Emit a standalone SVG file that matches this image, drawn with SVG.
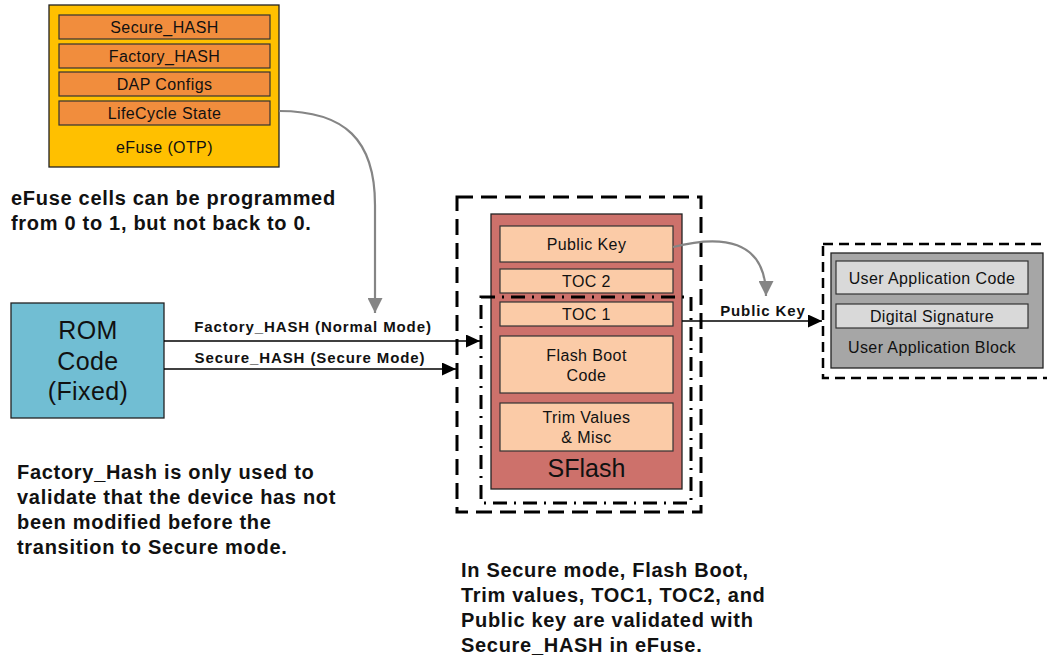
<svg xmlns="http://www.w3.org/2000/svg" width="1047" height="656" viewBox="0 0 1047 656">
<style>
text{font-family:"Liberation Sans",Arial,sans-serif;fill:#111;}
.n{font-size:16px;letter-spacing:0.4px;text-anchor:middle;}
.big{font-size:25px;letter-spacing:0.4px;text-anchor:middle;}
.note{font-size:20px;font-weight:bold;letter-spacing:0.7px;}
.lbl{font-size:15px;font-weight:bold;letter-spacing:0.9px;text-anchor:middle;}
.box{stroke:#222;stroke-width:1.3;}
.row{fill:#F18D3D;stroke:#333;stroke-width:1.2;}
.peach{fill:#FBCBA7;stroke:#333;stroke-width:1.2;}
.lg{fill:#D9D9D9;stroke:#333;stroke-width:1.2;}
.conn{fill:none;stroke:#000;stroke-width:1.6;}
.gconn{fill:none;stroke:#858585;stroke-width:2.2;}
</style>
<defs>
<marker id="ah" markerUnits="userSpaceOnUse" markerWidth="15" markerHeight="13" refX="14" refY="6.5" orient="auto">
<path d="M0,0 L14,6.5 L0,13 z" fill="#000"/>
</marker>
<marker id="gah" markerUnits="userSpaceOnUse" markerWidth="16" markerHeight="15" refX="15" refY="7.5" orient="auto">
<path d="M0,0 L15,7.5 L0,15 z" fill="#858585"/>
</marker>
</defs>
<rect width="1047" height="656" fill="#fff"/>

<g id="efuse">
<rect class="box" x="49" y="5" width="230" height="162" fill="#FFC000"/>
<rect class="row" x="59" y="15" width="211" height="24"/>
<rect class="row" x="59" y="44" width="211" height="24"/>
<rect class="row" x="59" y="72" width="211" height="24"/>
<rect class="row" x="59" y="101" width="211" height="24"/>
<text class="n" x="164.5" y="32.5">Secure_HASH</text>
<text class="n" x="164.5" y="61.5">Factory_HASH</text>
<text class="n" x="164.5" y="89.5">DAP Configs</text>
<text class="n" x="164.5" y="118.5">LifeCycle State</text>
<text class="n" x="164.5" y="153">eFuse (OTP)</text>
</g>

<g id="rom">
<rect class="box" x="11" y="303" width="153" height="115" fill="#71BED3"/>
<text class="big" x="88" y="339">ROM</text>
<text class="big" x="88" y="370">Code</text>
<text class="big" x="88" y="400">(Fixed)</text>
</g>

<g id="secure-region">
<rect x="457" y="197" width="244" height="315" fill="none" stroke="#000" stroke-width="3" stroke-dasharray="16 8"/>
</g>

<g id="sflash">
<rect class="box" x="491" y="214" width="191" height="275" fill="#CD716B"/>
<rect class="peach" x="500" y="226" width="173" height="36"/>
<rect class="peach" x="500" y="269" width="173" height="24"/>
<rect class="peach" x="500" y="302" width="173" height="24"/>
<rect class="peach" x="500" y="336" width="173" height="57"/>
<rect class="peach" x="500" y="403" width="173" height="48"/>
<text class="n" x="586.5" y="249.5">Public Key</text>
<text class="n" x="586.5" y="286.5">TOC 2</text>
<text class="n" x="586.5" y="319.5">TOC 1</text>
<text class="n" x="586.5" y="361">Flash Boot</text>
<text class="n" x="586.5" y="381">Code</text>
<text class="n" x="586.5" y="423">Trim Values</text>
<text class="n" x="586.5" y="443">&amp; Misc</text>
<text x="586.5" y="477" style="font-size:25px;text-anchor:middle;">SFlash</text>
</g>

<g id="normal-region">
<rect x="481" y="297" width="210" height="206" fill="none" stroke="#000" stroke-width="3" stroke-dasharray="14 7 2 7"/>
</g>

<g id="user-app">
<rect x="823" y="244" width="232" height="134" fill="none" stroke="#000" stroke-width="2.5" stroke-dasharray="10 6"/>
<rect class="box" x="831" y="253" width="212" height="115" fill="#A6A6A6"/>
<rect class="lg" x="836" y="261" width="192" height="33"/>
<rect class="lg" x="836" y="304" width="192" height="24"/>
<text class="n" x="932" y="283.5">User Application Code</text>
<text class="n" x="932" y="321.5">Digital Signature</text>
<text class="n" x="932" y="353">User Application Block</text>
</g>

<g id="connectors">
<path class="conn" d="M164,341 H480" marker-end="url(#ah)"/>
<path class="conn" d="M164,369 H456" marker-end="url(#ah)"/>
<path class="conn" d="M682,321 H822" marker-end="url(#ah)"/>
<path class="gconn" d="M279,111 C345,111 375,140 375,205 V313" marker-end="url(#gah)"/>
<path class="gconn" d="M673,247 C720,235 766,238 766,296" marker-end="url(#gah)"/>
<text class="lbl" x="313" y="332">Factory_HASH (Normal Mode)</text>
<text class="lbl" x="310" y="363">Secure_HASH (Secure Mode)</text>
<text class="lbl" x="763" y="316">Public Key</text>
</g>

<g id="notes">
<text class="note" x="11" y="205">eFuse cells can be programmed</text>
<text class="note" x="11" y="230">from 0 to 1, but not back to 0.</text>
<text class="note" x="17" y="479">Factory_Hash is only used to</text>
<text class="note" x="17" y="504">validate that the device has not</text>
<text class="note" x="17" y="529">been modified before the</text>
<text class="note" x="17" y="554">transition to Secure mode.</text>
<text class="note" x="461" y="577">In Secure mode, Flash Boot,</text>
<text class="note" x="461" y="602">Trim values, TOC1, TOC2, and</text>
<text class="note" x="461" y="627">Public key are validated with</text>
<text class="note" x="461" y="652">Secure_HASH in eFuse.</text>
</g>
</svg>
